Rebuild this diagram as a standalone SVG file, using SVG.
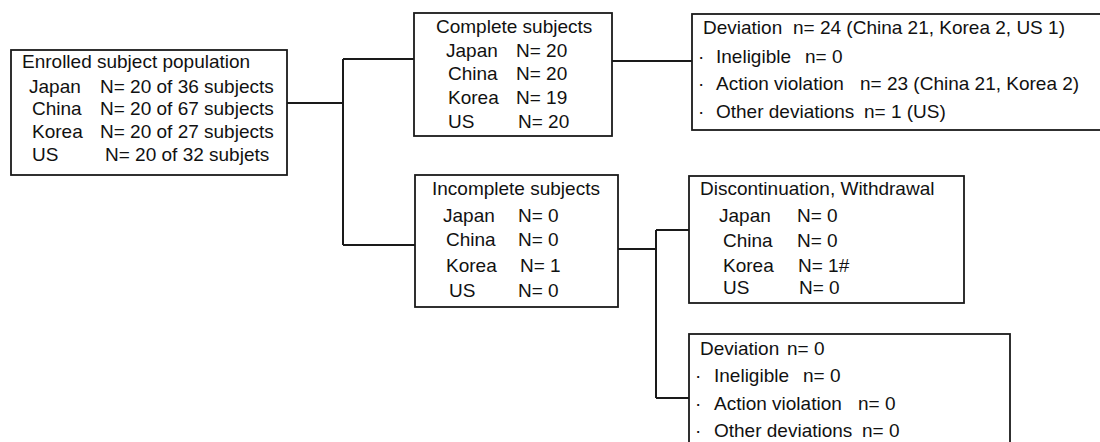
<svg xmlns="http://www.w3.org/2000/svg" width="1100" height="442" viewBox="0 0 1100 442">
<style>
.box{fill:#fff;stroke:#1a1a1a;stroke-width:1.8}
.ln{fill:none;stroke:#1a1a1a;stroke-width:2}
text{font-family:"Liberation Sans",Arial,sans-serif;font-size:19px;fill:#111}
</style>
<rect width="1100" height="442" fill="#fff"/>
<g id="connectors">
<path class="ln" d="M287,103H343M343,59V245M343,59H414M343,245H415"/>
<path class="ln" d="M612,61H692"/>
<path class="ln" d="M618,249H656M656,230V398M656,230H689M656,398H689"/>
</g>
<g id="enrolled">
<rect class="box" x="11" y="50" width="276" height="125"/>
<text x="22" y="68">Enrolled subject population</text>
<text x="29" y="93">Japan</text><text x="100" y="93">N= 20 of 36 subjects</text>
<text x="32" y="115">China</text><text x="100" y="115">N= 20 of 67 subjects</text>
<text x="32" y="138">Korea</text><text x="100" y="138">N= 20 of 27 subjects</text>
<text x="32" y="161">US</text><text x="105" y="161">N= 20 of 32 subjets</text>
</g>
<g id="complete">
<rect class="box" x="414" y="13" width="198" height="123"/>
<text x="436" y="33">Complete subjects</text>
<text x="446" y="57">Japan</text><text x="516" y="57">N= 20</text>
<text x="448" y="80">China</text><text x="516" y="80">N= 20</text>
<text x="448" y="104">Korea</text><text x="516" y="104">N= 19</text>
<text x="448" y="128">US</text><text x="518" y="128">N= 20</text>
</g>
<g id="deviation-complete">
<rect class="box" x="692" y="14" width="412" height="116"/>
<text x="703" y="34">Deviation</text><text x="793" y="34">n= 24 (China 21, Korea 2, US 1)</text>
<text x="698" y="63">·</text><text x="716" y="63">Ineligible</text><text x="805" y="63">n= 0</text>
<text x="698" y="90">·</text><text x="716" y="90">Action violation</text><text x="860" y="90">n= 23 (China 21, Korea 2)</text>
<text x="698" y="118">·</text><text x="716" y="118">Other deviations</text><text x="864" y="118">n= 1 (US)</text>
</g>
<g id="incomplete">
<rect class="box" x="415" y="175" width="203" height="132"/>
<text x="432" y="195">Incomplete subjects</text>
<text x="443" y="222">Japan</text><text x="518" y="222">N= 0</text>
<text x="446" y="246">China</text><text x="518" y="246">N= 0</text>
<text x="446" y="272">Korea</text><text x="520" y="272">N= 1</text>
<text x="449" y="297">US</text><text x="518" y="297">N= 0</text>
</g>
<g id="discontinuation">
<rect class="box" x="689" y="176" width="275" height="127"/>
<text x="700" y="195">Discontinuation, Withdrawal</text>
<text x="719" y="222">Japan</text><text x="797" y="222">N= 0</text>
<text x="723" y="247">China</text><text x="797" y="247">N= 0</text>
<text x="723" y="272">Korea</text><text x="798" y="272">N= 1#</text>
<text x="723" y="294">US</text><text x="799" y="294">N= 0</text>
</g>
<g id="deviation-incomplete">
<rect class="box" x="689" y="334" width="321" height="130"/>
<text x="700" y="355">Deviation</text><text x="787" y="355">n= 0</text>
<text x="695" y="382">·</text><text x="714" y="382">Ineligible</text><text x="803" y="382">n= 0</text>
<text x="695" y="410">·</text><text x="714" y="410">Action violation</text><text x="858" y="410">n= 0</text>
<text x="695" y="437">·</text><text x="714" y="437">Other deviations</text><text x="862" y="437">n= 0</text>
</g>
</svg>
